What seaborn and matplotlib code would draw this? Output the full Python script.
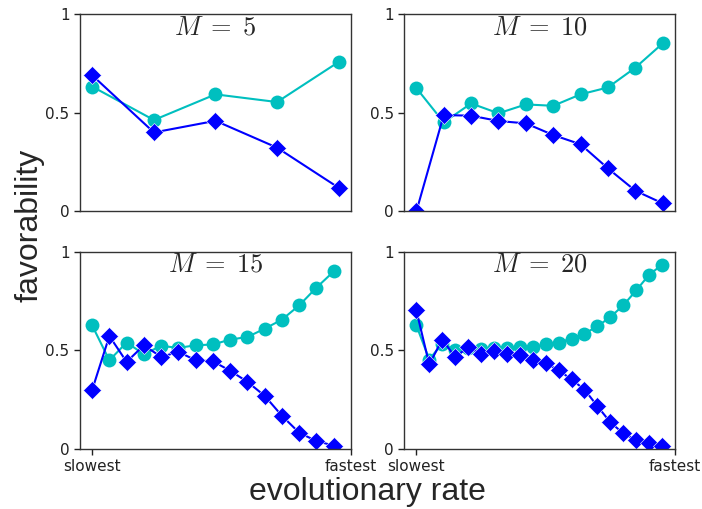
import numpy as np
import pandas as pd
import matplotlib
matplotlib.use("Agg")
import matplotlib.pyplot as plt
import seaborn as sns

sns.set_style("white")
plt.rcParams["font.family"] = ["DejaVu Sans"]
plt.rcParams["mathtext.fontset"] = "cm"

panel_M = [5, 10, 15, 20]

circle_5 = [0.632, 0.463, 0.593, 0.554, 0.757]
diamond_5 = [0.689, 0.400, 0.459, 0.323, 0.120]

circle_10 = [0.625, 0.451, 0.547, 0.497, 0.542, 0.535, 0.593, 0.628, 0.728, 0.851]
diamond_10 = [0.0, 0.488, 0.485, 0.458, 0.446, 0.387, 0.340, 0.218, 0.105, 0.041]

circle_15 = [0.626, 0.449, 0.539, 0.480, 0.522, 0.512, 0.525, 0.529, 0.554, 0.567,
             0.609, 0.655, 0.727, 0.817, 0.899]
diamond_15 = [0.298, 0.572, 0.441, 0.525, 0.466, 0.492, 0.449, 0.444, 0.396, 0.340,
              0.269, 0.168, 0.082, 0.040, 0.017]

circle_20 = [0.626, 0.453, 0.534, 0.500, 0.510, 0.505, 0.510, 0.510, 0.515, 0.517,
             0.529, 0.539, 0.559, 0.584, 0.621, 0.668, 0.727, 0.803, 0.882, 0.933]
diamond_20 = [0.702, 0.428, 0.554, 0.466, 0.514, 0.483, 0.497, 0.483, 0.475, 0.453,
              0.433, 0.399, 0.352, 0.301, 0.217, 0.135, 0.079, 0.045, 0.029, 0.017]

circles = [circle_5, circle_10, circle_15, circle_20]
diamonds = [diamond_5, diamond_10, diamond_15, diamond_20]

y_ticks = [0, 0.5, 1]
y_tick_labels = ["0", "0.5", "1"]
x_tick_labels = ["slowest", "fastest"]

fig, axes = plt.subplots(2, 2, figsize=(7.02, 5.09), dpi=100)
fig.subplots_adjust(left=0.114, right=0.9615, top=0.9725, bottom=0.118,
                    wspace=0.196, hspace=0.203)

for k, ax in enumerate(axes.flat):
    M = panel_M[k]
    x = np.arange(M) / M
    df = pd.DataFrame({"rate": x, "circ": circles[k], "diam": diamonds[k]})
    sns.lineplot(data=df, x="rate", y="circ", ax=ax, color="c", marker="o",
                 markersize=10, markeredgecolor="c", markeredgewidth=0,
                 linewidth=1.5)
    sns.lineplot(data=df, x="rate", y="diam", ax=ax, color="b", marker="D",
                 markersize=9, markeredgecolor="w", markeredgewidth=0.4,
                 linewidth=1.5)
    ax.set_ylim(0, 1)
    ax.set_yticks(y_ticks)
    ax.set_yticklabels(y_tick_labels, fontsize=11)
    ax.set_xlabel("")
    ax.set_ylabel("")
    ax.tick_params(axis="y", direction="out", length=4, width=1, left=True,
                   colors="#222222")
    for sp in ax.spines.values():
        sp.set_color("#333333")
        sp.set_linewidth(1.0)
    if k < 2:
        ax.set_xticks([])
    else:
        ax.set_xticks([0, 1])
        ax.set_xticklabels(x_tick_labels, fontsize=11)
        ax.tick_params(axis="x", direction="out", length=4, width=1,
                       bottom=True, colors="#222222")
    ax.text(0.5, 0.898, r"$M\;=\;%d$" % M, transform=ax.transAxes,
            ha="center", va="baseline", fontsize=19)

fig.text(0.042, 0.558, "favorability", rotation=90, ha="center", va="center",
         fontsize=23, family="Liberation Sans")
fig.text(0.524, 0.033, "evolutionary rate", ha="center", va="center",
         fontsize=23, family="Liberation Sans")

fig.savefig("out.png", dpi=100)
